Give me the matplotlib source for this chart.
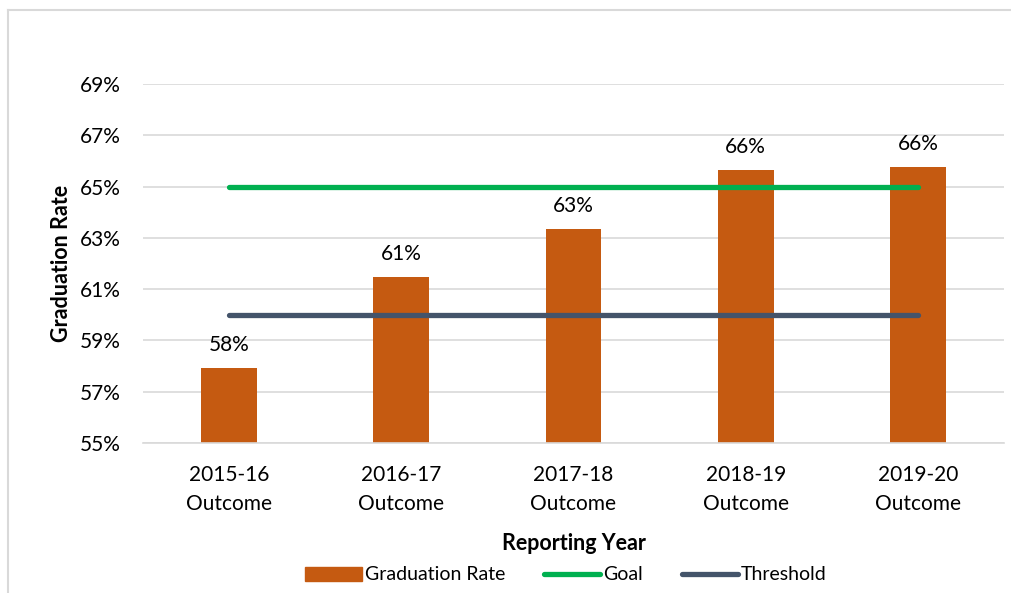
""" Graduation rate by reporting year, with goal and threshold
"""
import numpy as np
import matplotlib.pyplot as plt
from matplotlib.lines import Line2D
from matplotlib.ticker import FuncFormatter

years = ["2015-16", "2016-17", "2017-18", "2018-19", "2019-20"]
year_suffix = "Outcome"
grad_rate = [57.93, 61.48, 63.35, 65.66, 65.77]
goal = [65, 65, 65, 65, 65]
threshold = [60, 60, 60, 60, 60]
y_ticks = [55, 57, 59, 61, 63, 65, 67, 69]

BAR_COLOR = "#C55A11"
GOAL_COLOR = "#00B050"
THRESH_COLOR = "#44546A"
GRID_COLOR = "#D9D9D9"

plt.rcParams["font.family"] = ["Lato", "DejaVu Sans"]


def main() -> None:
    """Draw the chart."""
    fig = plt.figure(figsize=(10.12, 5.93), dpi=100)
    ax = fig.add_axes([143 / 1012, 1 - 443 / 593, (1004 - 143) / 1012, (443 - 84) / 593])

    x = np.arange(len(years))
    ax.bar(x, [v - 55 for v in grad_rate], bottom=55, width=0.325,
           color=BAR_COLOR, zorder=2, label="Graduation Rate")
    ax.plot(x, goal, color=GOAL_COLOR, lw=3.8, solid_capstyle="round",
            zorder=3, label="Goal")
    ax.plot(x, threshold, color=THRESH_COLOR, lw=3.8, solid_capstyle="round",
            zorder=3, label="Threshold")

    for xi, v in zip(x, grad_rate):
        ax.annotate(f"{round(v):.0f}%", (xi, v), xytext=(0, 9),
                    textcoords="offset points", ha="center", va="bottom",
                    fontsize=15, color="#000000")

    ax.set_xlim(-0.5, len(years) - 0.5)
    ax.set_ylim(55, 69)
    ax.set_yticks(y_ticks)
    ax.yaxis.set_major_formatter(FuncFormatter(lambda v, _: f"{v:.0f}%"))
    # two-line category labels: year on major ticks, "Outcome" on minor ticks
    ax.xaxis.remove_overlapping_locs = False
    ax.set_xticks(x)
    ax.set_xticklabels(years)
    ax.set_xticks(x, minor=True)
    ax.set_xticklabels([year_suffix] * len(years), minor=True)
    ax.tick_params(axis="both", which="both", length=0, labelsize=15,
                   colors="#000000")
    ax.tick_params(axis="x", which="major", pad=15.5)
    ax.tick_params(axis="x", which="minor", pad=37)
    ax.tick_params(axis="y", pad=16)
    ax.grid(axis="y", which="major", color=GRID_COLOR, lw=1.2, zorder=0)
    for side in ["top", "right", "left"]:
        ax.spines[side].set_visible(False)
    ax.spines["bottom"].set_color(GRID_COLOR)
    ax.spines["bottom"].set_linewidth(1.2)

    ax.set_xlabel("Reporting Year", fontsize=15.5, fontweight="bold", labelpad=13.5)
    ax.set_ylabel("Graduation Rate", fontsize=15.5, fontweight="bold", labelpad=6)

    handles = [plt.Rectangle((0, 0), 1, 1, color=BAR_COLOR),
               Line2D([], [], color=GOAL_COLOR, lw=3.8, solid_capstyle="round"),
               Line2D([], [], color=THRESH_COLOR, lw=3.8, solid_capstyle="round")]
    fig.legend(handles, ["Graduation Rate", "Goal", "Threshold"],
               loc="center", bbox_to_anchor=(566 / 1012, 1 - 575 / 593), ncol=3,
               frameon=False, fontsize=14, handlelength=2.9, handleheight=0.72,
               handletextpad=0.15, columnspacing=2.0)

    # outer chart border
    fig.add_artist(Line2D([8 / 1012, 8 / 1012], [0, 1 - 10 / 593],
                          transform=fig.transFigure, color=GRID_COLOR, lw=1.5))
    fig.add_artist(Line2D([8 / 1012, 1], [1 - 10 / 593, 1 - 10 / 593],
                          transform=fig.transFigure, color=GRID_COLOR, lw=1.5))

    fig.savefig("out.png", dpi=100)
    plt.close(fig)


if __name__ == "__main__":
    main()
